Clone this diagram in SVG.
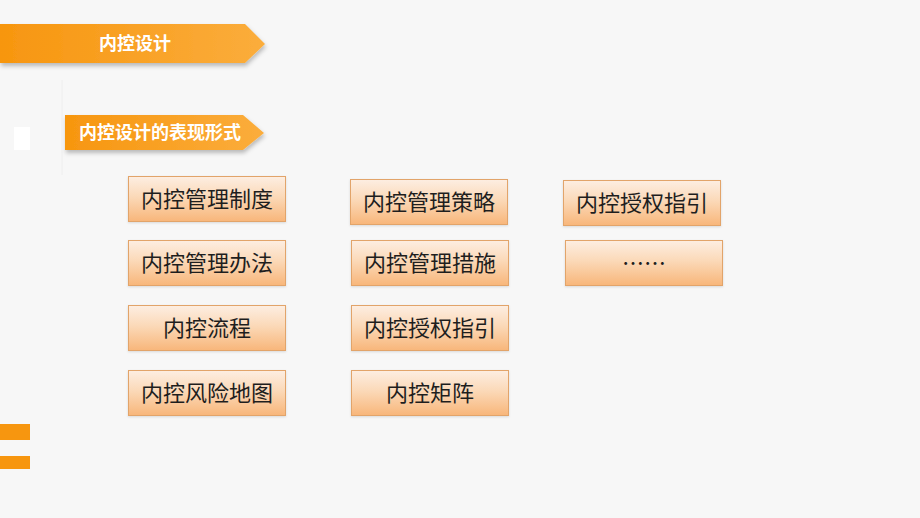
<svg xmlns="http://www.w3.org/2000/svg" width="920" height="518" viewBox="0 0 920 518">
  <defs>
    <linearGradient id="boxg" x1="0" y1="0" x2="0" y2="1">
      <stop offset="0" stop-color="#fdeee2"/>
      <stop offset="0.45" stop-color="#fbd9b8"/>
      <stop offset="1" stop-color="#f8b67a"/>
    </linearGradient>
    <linearGradient id="bang" x1="0" y1="0" x2="1" y2="0">
      <stop offset="0" stop-color="#f7960f"/>
      <stop offset="1" stop-color="#fbad3c"/>
    </linearGradient>
    <filter id="sh" x="-10%" y="-30%" width="120%" height="170%">
      <feDropShadow dx="1" dy="3" stdDeviation="2" flood-color="#000" flood-opacity="0.25"/>
    </filter>
    <filter id="bsh" x="-10%" y="-20%" width="120%" height="150%">
      <feDropShadow dx="0" dy="1" stdDeviation="1" flood-color="#000" flood-opacity="0.12"/>
    </filter>
  </defs>
  <style>
    .box { fill: url(#boxg); stroke: #e2a46a; stroke-width: 1; filter: url(#bsh); }
    .lbl { font-family: "Noto Sans CJK SC", "Noto Sans", sans-serif; font-size: 22px; fill: #1e1e1e; text-anchor: middle; }
    .ban { fill: url(#bang); filter: url(#sh); }
    .bt { font-family: "Noto Sans CJK SC", "Noto Sans", sans-serif; font-size: 18px; font-weight: bold; fill: #ffffff; }
  </style>
  <rect width="920" height="518" fill="#f7f7f7"/>

  <g id="banner1">
    <polygon class="ban" points="0,24 245,24 265,44 245,63 0,63"/>
    <text class="bt" x="135" y="50" text-anchor="middle">内控设计</text>
  </g>
  <g id="banner2">
    <polygon class="ban" points="65,115 243,115 264,133 243,150 65,150"/>
    <text class="bt" x="79" y="139">内控设计的表现形式</text>
  </g>
  <rect x="14" y="127" width="16" height="23" fill="#ffffff"/>
  <line x1="62" y1="80" x2="62" y2="175" stroke="#eeeeee" stroke-width="1"/>

  <rect x="0" y="424" width="30" height="16" fill="#f7960f"/>
  <rect x="0" y="456" width="30" height="13" fill="#f7960f"/>

  <g id="n1"><rect class="box" x="128.500" y="176.500" width="157" height="45"/><text class="lbl" x="207" y="207">内控管理制度</text></g>
  <g id="n2"><rect class="box" x="128.500" y="240.500" width="157" height="45"/><text class="lbl" x="207" y="271">内控管理办法</text></g>
  <g id="n3"><rect class="box" x="128.500" y="305.500" width="157" height="45"/><text class="lbl" x="207" y="336">内控流程</text></g>
  <g id="n4"><rect class="box" x="128.500" y="370.500" width="157" height="45"/><text class="lbl" x="207" y="401">内控风险地图</text></g>

  <g id="n5"><rect class="box" x="350.500" y="179.500" width="157" height="45"/><text class="lbl" x="429" y="210">内控管理策略</text></g>
  <g id="n6"><rect class="box" x="351.500" y="240.500" width="157" height="45"/><text class="lbl" x="430" y="271">内控管理措施</text></g>
  <g id="n7"><rect class="box" x="351.500" y="305.500" width="157" height="45"/><text class="lbl" x="430" y="336">内控授权指引</text></g>
  <g id="n8"><rect class="box" x="351.500" y="370.500" width="157" height="45"/><text class="lbl" x="430" y="401">内控矩阵</text></g>

  <g id="n9"><rect class="box" x="563.500" y="180.500" width="157" height="45"/><text class="lbl" x="642" y="211">内控授权指引</text></g>
  <g id="n10"><rect class="box" x="565.500" y="240.500" width="157" height="45"/><text class="lbl" x="644" y="271">……</text></g>
  <g id="connectors"></g>
</svg>
